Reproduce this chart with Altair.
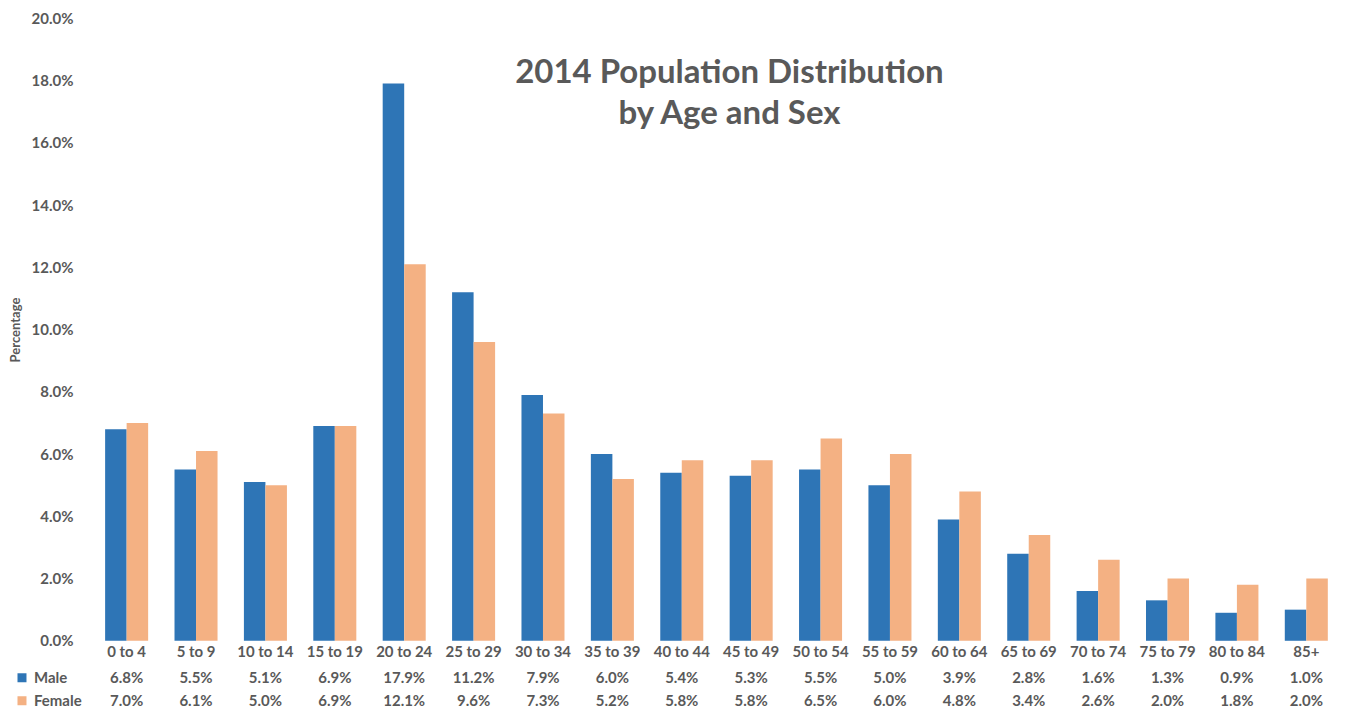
import altair as alt
import pandas as pd

AGE_GROUPS = ["0 to 4", "5 to 9", "10 to 14", "15 to 19", "20 to 24", "25 to 29",
              "30 to 34", "35 to 39", "40 to 44", "45 to 49", "50 to 54", "55 to 59",
              "60 to 64", "65 to 69", "70 to 74", "75 to 79", "80 to 84", "85+"]
MALE = [6.8, 5.5, 5.1, 6.9, 17.9, 11.2, 7.9, 6.0, 5.4, 5.3, 5.5, 5.0, 3.9, 2.8, 1.6, 1.3, 0.9, 1.0]
FEMALE = [7.0, 6.1, 5.0, 6.9, 12.1, 9.6, 7.3, 5.2, 5.8, 5.8, 6.5, 6.0, 4.8, 3.4, 2.6, 2.0, 1.8, 2.0]
SERIES = ["Male", "Female"]
COLORS = ["#2E75B6", "#F4B183"]
TITLE_LINES = ["2014 Population Distribution", "by Age and Sex"]
Y_TITLE = "Percentage"

FONT = "Lato"
GREY = "#595959"
W, H = 1250, 623

rows = []
for s, vals in zip(SERIES, [MALE, FEMALE]):
    for a, v in zip(AGE_GROUPS, vals):
        rows.append({"age": a, "sex": s, "value": v / 100.0, "label": f"{v:.1f}%"})
df = pd.DataFrame(rows)
legend_df = pd.DataFrame({"sex": SERIES})

xenc = alt.X("age:N", sort=AGE_GROUPS,
             scale=alt.Scale(paddingInner=0.38, paddingOuter=0.19),
             axis=alt.Axis(title=None, domain=False, ticks=False, labelAngle=0,
                           labelFont=FONT, labelFontSize=15, labelFontWeight="bold",
                           labelColor=GREY, labelPadding=4))

bars = alt.Chart(df).mark_bar().encode(
    x=xenc,
    xOffset=alt.XOffset("sex:N", sort=SERIES, scale=alt.Scale(paddingInner=0, paddingOuter=0)),
    y=alt.Y("value:Q", scale=alt.Scale(domain=[0, 0.2], nice=False),
            axis=alt.Axis(format=".1%", values=[i / 100 for i in range(0, 21, 2)],
                          grid=False, domain=False, ticks=False,
                          labelFont=FONT, labelFontSize=15, labelFontWeight="bold",
                          labelColor=GREY, labelPadding=19,
                          title=Y_TITLE, titleFont=FONT, titleFontSize=13,
                          titleFontWeight="bold", titleColor=GREY,
                          titleX=-76, titleBaseline="middle")),
    color=alt.Color("sex:N", scale=alt.Scale(domain=SERIES, range=COLORS), legend=None),
)

row_y = {"Male": 660, "Female": 683}

table_layers = []
for s in SERIES:
    t = alt.Chart(df).transform_filter(alt.datum.sex == s).mark_text(
        font=FONT, fontSize=15, fontWeight="bold", color=GREY, baseline="middle"
    ).encode(x=alt.X("age:N", sort=AGE_GROUPS), y=alt.value(row_y[s]), text="label:N")
    table_layers.append(t)

    sq = alt.Chart(legend_df).transform_filter(alt.datum.sex == s).mark_square(
        size=81, opacity=1
    ).encode(x=alt.value(-70), y=alt.value(row_y[s]),
             color=alt.Color("sex:N", scale=alt.Scale(domain=SERIES, range=COLORS), legend=None))
    lt = alt.Chart(legend_df).transform_filter(alt.datum.sex == s).mark_text(
        font=FONT, fontSize=15, fontWeight="bold", color=GREY, align="left", baseline="middle"
    ).encode(x=alt.value(-58), y=alt.value(row_y[s]), text="sex:N")
    table_layers += [sq, lt]

title = alt.Chart(legend_df.head(1)).mark_text(
    text=TITLE_LINES, font=FONT, fontSize=33, fontWeight="bold", color=GREY,
    align="center", baseline="alphabetic", lineHeight=41
).encode(x=alt.value(638), y=alt.value(65))

chart = alt.layer(bars, *table_layers, title).properties(
    width=W, height=H,
    autosize=alt.AutoSizeParams(type="none"),
    padding={"left": 84, "top": 10, "right": 0, "bottom": 68},
).configure(background="white", view=alt.ViewConfig(stroke=None))

chart.save("out.html", embed_options={"renderer": "svg", "actions": False})
